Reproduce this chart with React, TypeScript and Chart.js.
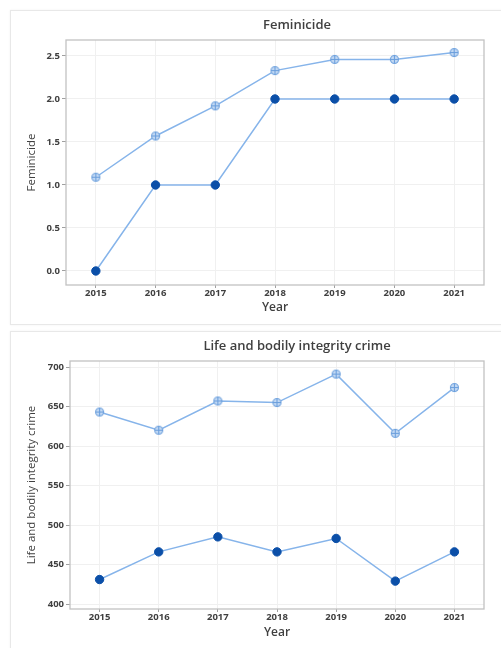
import React, { useEffect, useRef } from "react";
import { Chart, registerables } from "chart.js";

Chart.register(...registerables);

const years = ["2015", "2016", "2017", "2018", "2019", "2020", "2021"];

const femUpper = [1.09, 1.57, 1.92, 2.33, 2.46, 2.46, 2.54];
const femLower = [0, 1, 1, 2, 2, 2, 2];
const femTicks = [0, 0.5, 1, 1.5, 2, 2.5];

const lifeUpper = [643, 620, 657, 655, 691, 616, 674];
const lifeLower = [431, 466, 485, 466, 483, 429, 466];
const lifeTicks = [400, 450, 500, 550, 600, 650, 700];

const FONT = "'Open Sans', 'Noto Sans', sans-serif";
const LINE = "#86b4ea";
const DARK = "#0b4fa8";
const TEXT = "#404040";

function crossCircle(): HTMLCanvasElement {
  const c = document.createElement("canvas");
  c.width = 11;
  c.height = 11;
  const g = c.getContext("2d")!;
  g.beginPath();
  g.arc(5.5, 5.5, 4, 0, Math.PI * 2);
  g.fillStyle = "#c4daf4";
  g.fill();
  g.lineWidth = 1.1;
  g.strokeStyle = "#6a9edc";
  g.stroke();
  g.beginPath();
  g.moveTo(5.5, 1);
  g.lineTo(5.5, 10);
  g.moveTo(1, 5.5);
  g.lineTo(10, 5.5);
  g.stroke();
  return c;
}

type Cfg = {
  title: string;
  yTitle: string;
  upper: number[];
  lower: number[];
  ticks: number[];
  yMin: number;
  yMax: number;
  decimals: number;
  yWidth: number;
  xHeight: number;
  padTop: number;
  titleY: number;
  yearPad: number;
  yTitlePad: number;
  width: number;
  height: number;
};

function LineChart({ cfg }: { cfg: Cfg }) {
  const ref = useRef<HTMLCanvasElement>(null);
  useEffect(() => {
    const marker = crossCircle();
    const boxPlugin = {
      id: "boxAndTitle",
      afterDraw(chart: any) {
        const { ctx, chartArea } = chart;
        ctx.save();
        ctx.strokeStyle = "#c2c2c2";
        ctx.lineWidth = 1.3;
        ctx.strokeRect(chartArea.left, chartArea.top, chartArea.right - chartArea.left, chartArea.bottom - chartArea.top);
        ctx.fillStyle = TEXT;
        ctx.font = `600 13px ${FONT}`;
        ctx.textAlign = "center";
        ctx.textBaseline = "middle";
        ctx.fillText(cfg.title, 297, cfg.titleY);
        ctx.restore();
      },
    };
    const chart = new Chart(ref.current!, {
      type: "line",
      data: {
        labels: years,
        datasets: [
          {
            data: cfg.upper,
            borderColor: LINE,
            borderWidth: 1.5,
            pointStyle: marker as any,
            pointRadius: 5,
            tension: 0,
          },
          {
            data: cfg.lower,
            borderColor: LINE,
            borderWidth: 1.5,
            pointStyle: "circle",
            pointRadius: 4.2,
            pointBackgroundColor: DARK,
            pointBorderColor: DARK,
            pointBorderWidth: 1,
            tension: 0,
          },
        ],
      },
      options: {
        animation: false,
        responsive: false,
        events: [],
        layout: { padding: { left: 0, right: 17, top: cfg.padTop, bottom: 0 } },
        plugins: { legend: { display: false }, title: { display: false }, tooltip: { enabled: false } },
        scales: {
          x: {
            type: "category",
            offset: true,
            afterFit: (s: any) => {
              s.height = cfg.xHeight;
            },
            grid: { color: "#f0f0f0", tickLength: 3, tickColor: "#a0a0a0", drawTicks: true },
            border: { display: false },
            ticks: { padding: 0, color: TEXT, font: { family: FONT, size: 9.5, weight: "bold" } },
            title: {
              display: true,
              text: "Year",
              color: TEXT,
              font: { family: FONT, size: 12, weight: "600" },
              padding: { top: 0, bottom: cfg.yearPad },
            },
          },
          y: {
            type: "linear",
            min: cfg.yMin,
            max: cfg.yMax,
            afterFit: (s: any) => {
              s.width = cfg.yWidth;
            },
            afterBuildTicks: (s: any) => {
              s.ticks = cfg.ticks.map((v) => ({ value: v }));
            },
            grid: { color: "#f0f0f0", tickLength: 4, tickColor: "#a0a0a0" },
            border: { display: false },
            ticks: {
              padding: 2,
              color: TEXT,
              font: { family: FONT, size: 9.5, weight: "bold" },
              callback: (v: any) => Number(v).toFixed(cfg.decimals),
            },
            title: {
              display: true,
              text: cfg.yTitle,
              color: TEXT,
              font: { family: FONT, size: 11.5, weight: "normal" },
              padding: { top: cfg.yTitlePad, bottom: 0 },
            },
          },
        },
      },
      plugins: [boxPlugin],
    } as any);
    return () => chart.destroy();
  }, [cfg]);
  return <canvas ref={ref} width={cfg.width} height={cfg.height} style={{ display: "block", width: cfg.width, height: cfg.height }} />;
}

const topCfg: Cfg = {
  title: "Feminicide",
  yTitle: "Feminicide",
  upper: femUpper,
  lower: femLower,
  ticks: femTicks,
  yMin: -0.163,
  yMax: 2.686,
  decimals: 1,
  yWidth: 66,
  xHeight: 40,
  padTop: 40,
  titleY: 25,
  yearPad: 10,
  yTitlePad: 25,
  width: 501,
  height: 325,
};

const bottomCfg: Cfg = {
  title: "Life and bodily integrity crime",
  yTitle: "Life and bodily integrity crime",
  upper: lifeUpper,
  lower: lifeLower,
  ticks: lifeTicks,
  yMin: 393.7,
  yMax: 707.6,
  decimals: 0,
  yWidth: 70,
  xHeight: 39,
  padTop: 36,
  titleY: 21.5,
  yearPad: 8,
  yTitlePad: 25,
  width: 501,
  height: 323,
};

export default function App() {
  const card: React.CSSProperties = {
    position: "absolute",
    left: 10,
    width: 520,
    background: "#fff",
    border: "1px solid #e8e8e8",
    boxShadow: "0 0 2px rgba(0,0,0,0.06)",
  };
  return (
    <div style={{ position: "absolute", left: 0, top: 0, width: 501, height: 648, overflow: "hidden", background: "#fff" }}>
      <div style={{ ...card, top: 10, height: 313 }} />
      <div style={{ ...card, top: 331, height: 330 }} />
      <div style={{ position: "absolute", left: 0, top: 0 }}>
        <LineChart cfg={topCfg} />
      </div>
      <div style={{ position: "absolute", left: 0, top: 325 }}>
        <LineChart cfg={bottomCfg} />
      </div>
    </div>
  );
}
